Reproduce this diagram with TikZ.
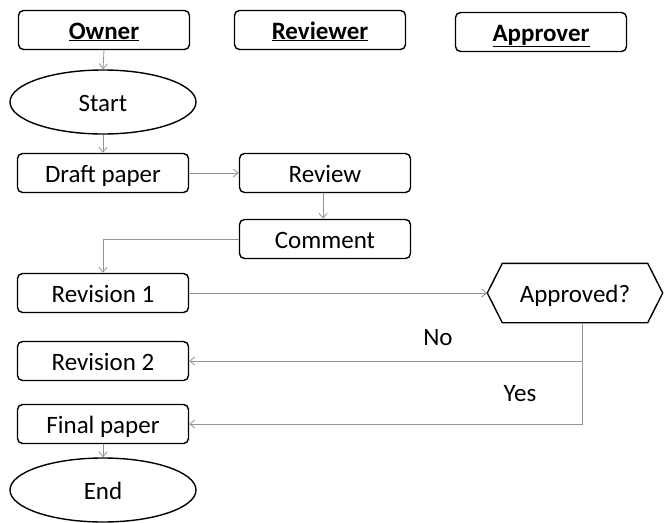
\documentclass[tikz,border=0pt]{standalone}
\usepackage{fontspec}
\setmainfont{Carlito}
\usetikzlibrary{arrows.meta,shapes.geometric}
\begin{document}
\begin{tikzpicture}[x=1pt,y=-1pt,
  every node/.style={font=\fontsize{25}{29}\selectfont, text height=18pt, text depth=0pt},
  box/.style={draw=black, line width=1.4pt, rounded corners=5pt, minimum width=171pt, minimum height=39pt, inner sep=0pt},
  oval/.style={draw=black, line width=1.4pt, ellipse, minimum width=186pt, minimum height=64pt, inner sep=0pt},
  arr/.style={draw=gray!85, line width=0.8pt, -{Straight Barb[length=5pt,width=8pt]}},
  ln/.style={draw=gray!85, line width=0.8pt}]
\useasboundingbox (0,0) rectangle (671,522);
% headers
\node[box] (owner) at (104,30) {\underline{\textbf{Owner}}};
\node[box] (reviewer) at (320,30) {\underline{\textbf{Reviewer}}};
\node[box] (approver) at (541,32) {\underline{\textbf{Approver}}};
% flow
\node[oval] (start) at (103,102) {Start};
\node[box] (draft) at (103,173) {Draft paper};
\node[box] (review) at (325,173) {Review};
\node[box] (comment) at (325,239) {Comment};
\node[box] (rev1) at (103,293) {Revision 1};
\node[minimum width=175pt, minimum height=59pt, inner sep=0pt] (ap) at (575,293) {Approved?};
\draw[line width=1.4pt, line join=miter] (ap.west) -- ([xshift=15pt]ap.north west) -- ([xshift=-15pt]ap.north east) -- (ap.east) -- ([xshift=-15pt]ap.south east) -- ([xshift=15pt]ap.south west) -- cycle;
\node[box] (rev2) at (103,361) {Revision 2};
\node[box] (final) at (103,424) {Final paper};
\node[oval] (end) at (103,490) {End};
% labels
\node (no) at (438,336) {No};
\node (yes) at (520,392) {Yes};
% connectors
\draw[arr] (owner.south) -- (start.north);
\draw[arr] (start.south) -- (draft.north);
\draw[arr] (draft.east) -- (review.west);
\draw[arr] ([xshift=-2pt]review.south) -- ([xshift=-2pt]comment.north);
\draw[arr] (comment.west) -| (rev1.north);
\draw[arr] (rev1.east) -- (ap.west);
\draw[arr] ([xshift=7pt]ap.south) |- (rev2.east);
\draw[arr] ([xshift=7pt]ap.south) |- (final.east);
\draw[arr] (final.south) -- (end.north);
\end{tikzpicture}
\end{document}
